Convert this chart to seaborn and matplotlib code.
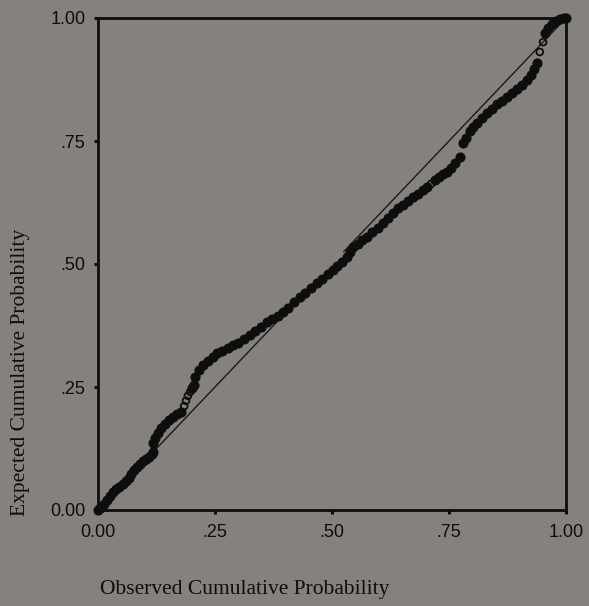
import matplotlib
matplotlib.use("Agg")
import matplotlib.pyplot as plt
import seaborn as sns
import pandas as pd

# Observed vs expected cumulative probabilities (filled markers)
observed = [
    0.000, 0.004, 0.008, 0.013, 0.019, 0.026, 0.032, 0.038, 0.045, 0.053,
    0.060, 0.066, 0.071, 0.077, 0.083, 0.090, 0.096, 0.103, 0.109, 0.115,
    0.118, 0.118, 0.122, 0.128, 0.135, 0.143, 0.152, 0.160, 0.169, 0.177,
    0.201, 0.205,
    0.207, 0.216, 0.224, 0.235, 0.246, 0.254, 0.265, 0.278, 0.288, 0.299,
    0.312, 0.325, 0.335, 0.348, 0.361, 0.372, 0.385, 0.395, 0.406, 0.419,
    0.432, 0.442, 0.455, 0.468, 0.479, 0.491, 0.502, 0.511, 0.521, 0.532,
    0.538, 0.545, 0.556, 0.564, 0.575, 0.585, 0.598, 0.609, 0.620, 0.630,
    0.641, 0.652, 0.662, 0.673, 0.684, 0.694, 0.703, 0.720, 0.729, 0.737,
    0.746, 0.754, 0.763, 0.774,
    0.780, 0.786, 0.795, 0.801, 0.810, 0.821, 0.831, 0.842, 0.853, 0.863,
    0.874, 0.885, 0.895, 0.906, 0.917, 0.925, 0.932, 0.938,
    0.955, 0.962, 0.970, 0.979, 0.987, 0.996, 1.000,
]
expected = [
    0.000, 0.004, 0.006, 0.012, 0.020, 0.028, 0.036, 0.042, 0.047, 0.052,
    0.058, 0.066, 0.073, 0.081, 0.088, 0.094, 0.099, 0.103, 0.108, 0.113,
    0.118, 0.136, 0.146, 0.157, 0.167, 0.175, 0.183, 0.189, 0.195, 0.199,
    0.248, 0.254,
    0.270, 0.285, 0.295, 0.303, 0.311, 0.319, 0.323, 0.329, 0.335, 0.339,
    0.348, 0.356, 0.364, 0.372, 0.382, 0.388, 0.394, 0.402, 0.411, 0.423,
    0.433, 0.441, 0.451, 0.461, 0.470, 0.480, 0.488, 0.496, 0.504, 0.514,
    0.524, 0.535, 0.541, 0.549, 0.555, 0.565, 0.573, 0.583, 0.593, 0.604,
    0.614, 0.620, 0.628, 0.636, 0.642, 0.650, 0.657, 0.671, 0.677, 0.683,
    0.687, 0.695, 0.705, 0.717,
    0.746, 0.756, 0.770, 0.778, 0.787, 0.797, 0.807, 0.815, 0.825, 0.831,
    0.839, 0.848, 0.856, 0.864, 0.874, 0.884, 0.896, 0.909,
    0.970, 0.980, 0.988, 0.994, 0.998, 1.000, 1.000,
]
# Open markers
observed_open = [0.184, 0.188, 0.192, 0.197, 0.712, 0.944, 0.951]
expected_open = [0.211, 0.222, 0.232, 0.240, 0.663, 0.931, 0.951]

# Reference diagonal (drawn in two visible pieces)
diag_low = [0.0, 0.39]
diag_high = [0.525, 1.0]

tick_values = [0.0, 0.25, 0.5, 0.75, 1.0]
tick_labels = ["0.00", ".25", ".50", ".75", "1.00"]

bg = "#85827e"
sns.set_theme(style="white")
plt.rcParams["font.family"] = ["Liberation Sans", "DejaVu Sans"]

fig = plt.figure(figsize=(5.89, 6.06), dpi=100, facecolor=bg)
ax = fig.add_axes([98 / 589, 96 / 606, 468 / 589, 492 / 606])
ax.set_facecolor(bg)

ax.plot(diag_low, diag_low, color="#1a1a1a", lw=1.0, zorder=1)
ax.plot(diag_high, diag_high, color="#1a1a1a", lw=1.0, zorder=1)

df = pd.DataFrame({"obs": observed, "exp": expected})
sns.scatterplot(data=df, x="obs", y="exp", ax=ax, color="#0d0d0d",
                s=42, edgecolor="#0d0d0d", linewidth=0.8, zorder=3,
                legend=False, clip_on=False)
dfo = pd.DataFrame({"obs": observed_open, "exp": expected_open})
sns.scatterplot(data=dfo, x="obs", y="exp", ax=ax, facecolor="none",
                edgecolor="#0d0d0d", s=24, linewidth=1.3, zorder=3,
                legend=False, clip_on=False)

ax.set_xlim(0, 1)
ax.set_ylim(0, 1)
ax.set_xticks(tick_values)
ax.set_xticklabels(tick_labels)
ax.set_yticks(tick_values)
ax.set_yticklabels(tick_labels)

for s in ax.spines.values():
    s.set_visible(True)
    s.set_color("#0d0d0d")
    s.set_linewidth(2.0)

ax.tick_params(axis="both", direction="out", length=3, width=2.2,
               color="#0d0d0d", labelsize=13, labelcolor="#0d0d0d",
               left=True, bottom=True)
ax.tick_params(axis="x", pad=7)
ax.tick_params(axis="y", pad=6)

serif = ["Liberation Serif", "DejaVu Serif"]
ax.set_xlabel("Observed Cumulative Probability", fontsize=15.5,
              family=serif, color="#0d0d0d", ha="left")
ax.xaxis.set_label_coords(0.004, -0.143)
ax.set_ylabel("Expected Cumulative Probability", fontsize=15.5,
              family=serif, color="#0d0d0d")
ax.yaxis.set_label_coords(-0.145, 0.28)

fig.savefig("out.png", dpi=100, facecolor=bg)
